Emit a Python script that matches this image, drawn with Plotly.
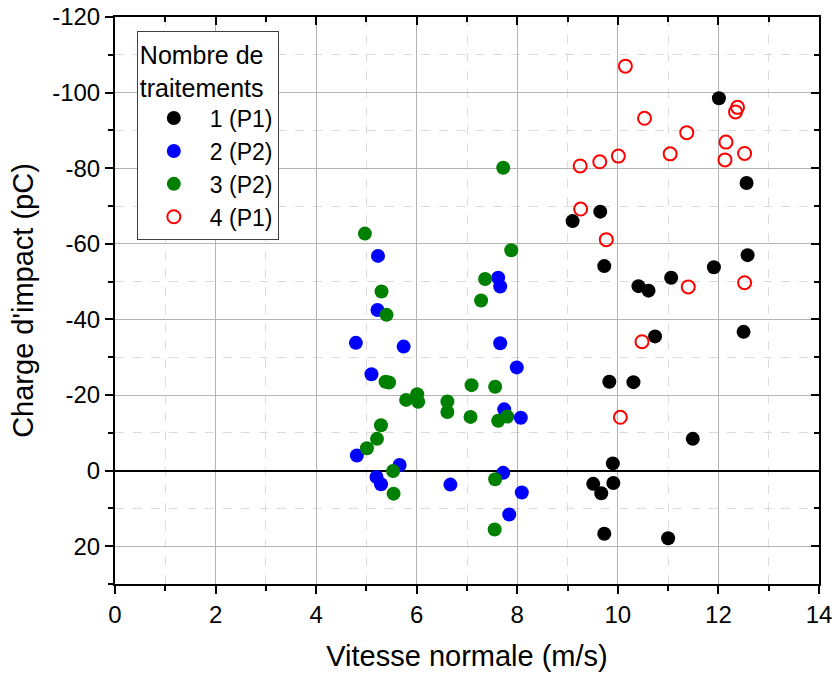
import plotly.graph_objects as go

# Série 1 (P1) - noir
x1 = [12.01, 9.10, 9.65, 12.56, 9.73, 12.58, 11.91, 11.06, 10.41, 10.61, 10.74, 12.50,
      9.83, 10.31, 11.49, 9.90, 9.51, 9.91, 9.67, 9.73, 11.00]
y1 = [-98.5, -66.0, -68.5, -76.1, -54.1, -57.0, -53.8, -51.0, -48.8, -47.6, -35.5, -36.7,
      -23.5, -23.4, -8.4, -1.9, 3.5, 3.3, 6.0, 16.7, 17.9]

# Série 2 (P2) - bleu
x2 = [5.23, 5.22, 4.79, 5.74, 5.10, 4.81, 5.66, 5.20, 5.29, 7.62, 7.66, 7.66, 7.99,
      7.74, 8.07, 7.72, 6.67, 8.09, 7.84]
y2 = [-56.8, -42.5, -33.8, -32.8, -25.5, -4.0, -1.5, 1.7, 3.6, -51.0, -48.7, -33.7, -27.3,
      -16.2, -14.0, 0.6, 3.7, 5.8, 11.6]

# Série 3 (P2) - vert
x3 = [4.97, 5.30, 5.40, 5.38, 5.45, 5.79, 6.01, 6.03, 5.29, 5.21, 5.01, 5.53, 5.54,
      7.72, 7.88, 7.36, 7.28, 7.09, 7.56, 6.61, 6.61, 7.07, 7.62, 7.80, 7.56, 7.55]
y3 = [-62.7, -47.4, -41.2, -23.5, -23.3, -18.7, -20.2, -18.2, -12.0, -8.4, -5.9, 0.1, 6.1,
      -80.1, -58.3, -50.7, -45.0, -22.6, -22.2, -18.3, -15.5, -14.2, -13.2, -14.3, 2.3, 15.6]

# Série 4 (P1) - rouge, cercles vides
x4 = [10.15, 10.53, 11.37, 12.15, 12.38, 12.34, 11.04, 10.01, 9.64, 9.25, 12.13, 12.52,
      9.26, 9.77, 11.40, 12.52, 10.48, 10.05]
y4 = [-107.0, -93.2, -89.4, -86.9, -96.1, -94.9, -83.8, -83.2, -81.7, -80.6, -82.2, -83.9,
      -69.2, -61.1, -48.6, -49.7, -34.1, -14.1]

names = ["1 (P1)", "2 (P2)", "3 (P2)", "4 (P1)"]
colors = ["#000000", "#0000FF", "#008000", "#FF0000"]

x_ticks = [0, 2, 4, 6, 8, 10, 12, 14]
x_ticktext = ["0", "2", "4", "6", "8", "10", "12", "14"]
y_ticks = [-120, -100, -80, -60, -40, -20, 0, 20]
y_ticktext = ["-120", "-100", "-80", "-60", "-40", "-20", "0", "20"]

fig = go.Figure()
for xs, ys, nm, col in zip([x1, x2, x3], [y1, y2, y3], names[:3], colors[:3]):
    fig.add_trace(go.Scatter(x=xs, y=ys, mode="markers", name=nm,
                             marker=dict(color=col, size=14, line=dict(width=0))))
fig.add_trace(go.Scatter(x=x4, y=y4, mode="markers", name=names[3],
                         marker=dict(symbol="circle-open", color=colors[3], size=13,
                                     line=dict(width=2, color=colors[3]))))

font_fam = "Liberation Sans, Arial, sans-serif"
grid_major = "#B4B4B4"
grid_minor = "#DCDCDC"

fig.update_layout(
    width=832, height=675,
    margin=dict(l=115, r=13, t=17, b=91),
    paper_bgcolor="white", plot_bgcolor="white",
    font=dict(family=font_fam, color="black", size=24),
    showlegend=True,
    legend=dict(
        x=0.031, y=0.976, xanchor="left", yanchor="top",
        bgcolor="white", bordercolor="#404040", borderwidth=1,
        font=dict(size=23, family=font_fam, color="black"),
        title=dict(text="Nombre de<br>traitements", font=dict(size=25, family=font_fam)),
        itemwidth=62,
        tracegroupgap=0,
    ),
    xaxis=dict(
        range=[0, 14], tickvals=x_ticks, ticktext=x_ticktext,
        showline=True, linecolor="black", linewidth=2,
        ticks="outside", ticklen=8, tickwidth=2, tickcolor="black",
        showgrid=True, gridcolor=grid_major, gridwidth=1,
        zeroline=False, automargin=False, ticklabeloverflow="allow",
        minor=dict(dtick=1, tick0=0, ticks="outside", ticklen=5, tickwidth=2, tickcolor="black",
                   showgrid=True, gridcolor=grid_minor, griddash="dash", gridwidth=1),
        tickfont=dict(size=24),
        title=dict(text="Vitesse normale (m/s)", font=dict(size=29), standoff=19),
    ),
    yaxis=dict(
        range=[30, -120], tickvals=y_ticks, ticktext=y_ticktext,
        showline=True, linecolor="black", linewidth=2,
        ticks="outside", ticklen=8, tickwidth=2, tickcolor="black",
        showgrid=True, gridcolor=grid_major, gridwidth=1,
        zeroline=True, zerolinecolor="black", zerolinewidth=2, automargin=False,
        ticklabeloverflow="allow",
        minor=dict(dtick=10, tick0=0, ticks="outside", ticklen=5, tickwidth=2, tickcolor="black",
                   showgrid=True, gridcolor=grid_minor, griddash="dash", gridwidth=1),
        tickfont=dict(size=24),
        title=dict(text="Charge d'impact (pC)", font=dict(size=29), standoff=10),
    ),
    xaxis2=dict(
        range=[0, 14], dtick=2, tick0=0, overlaying="x", side="top",
        showline=True, linecolor="black", linewidth=2,
        ticks="inside", ticklen=8, tickwidth=2, tickcolor="black",
        showticklabels=False, showgrid=False, zeroline=False, automargin=False,
        minor=dict(dtick=1, tick0=0, ticks="inside", ticklen=5, tickwidth=2, tickcolor="black",
                   showgrid=False),
    ),
    yaxis2=dict(
        range=[30, -120], dtick=20, tick0=0, overlaying="y", side="right",
        showline=True, linecolor="black", linewidth=2,
        ticks="inside", ticklen=8, tickwidth=2, tickcolor="black",
        showticklabels=False, showgrid=False, zeroline=False, automargin=False,
        minor=dict(dtick=10, tick0=0, ticks="inside", ticklen=5, tickwidth=2, tickcolor="black",
                   showgrid=False),
    ),
)
# trace invisible pour activer les axes secondaires (haut / droite)
fig.add_trace(go.Scatter(x=[None], y=[None], xaxis="x2", yaxis="y2",
                         showlegend=False, hoverinfo="skip"))

fig.write_html("out.html", config={"displayModeBar": False},
               post_script="document.body.style.margin='0';document.body.style.overflow='hidden';")
